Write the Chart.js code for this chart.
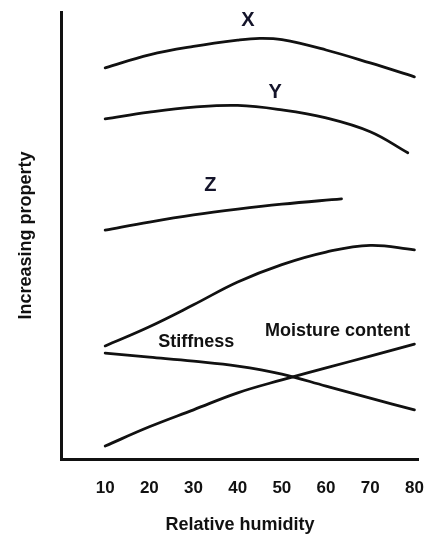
<!DOCTYPE html>
<html>
<head>
<meta charset="utf-8">
<script src="https://cdn.jsdelivr.net/npm/chart.js@4/dist/chart.umd.min.js"></script>
<style>
  html, body { margin: 0; padding: 0; background: #fff; }
  #wrap { width: 435px; height: 539px; }
</style>
</head>
<body>
<div id="wrap"><canvas id="c" width="435" height="539"></canvas></div>
<script>
// ---- data ----
const xTickLabels = [10, 20, 30, 40, 50, 60, 70, 80];

const xCurveX = [10, 20, 30, 40, 45, 50, 60, 70, 80];
const yCurveX = [87.5, 90.4, 92.3, 93.7, 94.1, 93.8, 91.5, 88.6, 85.5];

const xCurveY = [10, 20, 30, 40, 50, 60, 70, 78.5];
const yCurveY = [76.1, 77.6, 78.7, 79.1, 78.1, 76.3, 73.2, 68.5];

const xCurveZ = [10, 20, 30, 40, 50, 63.5];
const yCurveZ = [51.2, 53.0, 54.6, 55.9, 57.0, 58.2];

const xUpper = [10, 20, 30, 40, 50, 60, 70, 80];
const yUpper = [25.3, 29.6, 34.5, 39.6, 43.5, 46.3, 47.8, 46.8];

const xStiffness = [10, 20, 30, 40, 50, 60, 70, 80];
const yStiffness = [23.7, 22.8, 21.9, 20.8, 19.0, 16.3, 13.6, 11.0];

const xMoisture = [10, 20, 30, 40, 50, 60, 70, 80];
const yMoisture = [2.9, 7.2, 11.0, 14.8, 17.7, 20.4, 23.0, 25.7];

const labelTexts = ['X', 'Y', 'Z', 'Stiffness', 'Moisture content'];
const labelAtX   = [42.3, 48.5, 33.8, 30.6, 62.6];
const labelAtY   = [98.2, 82.0, 61.3, 26.2, 28.6];
const labelBig   = [true, true, true, false, false];

// ---- build ----
function pts(xs, ys) { return xs.map((x, i) => ({ x: x, y: ys[i] })); }
const FONT = '"Liberation Sans", Arial, Helvetica, sans-serif';
const INK = '#111111';

function ds(xs, ys) {
  return {
    data: pts(xs, ys),
    borderColor: INK,
    borderWidth: 2.8,
    pointRadius: 0,
    fill: false,
    tension: 0.4,
    borderCapStyle: 'round',
    borderJoinStyle: 'round'
  };
}

const curveLabels = {
  id: 'curveLabels',
  afterDatasetsDraw(chart) {
    const ctx = chart.ctx;
    const xs = chart.scales.x, ys = chart.scales.y;
    ctx.save();
    ctx.textAlign = 'center';
    ctx.textBaseline = 'middle';
    labelTexts.forEach((t, i) => {
      ctx.fillStyle = labelBig[i] ? '#14142a' : INK;
      ctx.font = 'bold ' + (labelBig[i] ? 20 : 18) + 'px ' + FONT;
      ctx.fillText(t, xs.getPixelForValue(labelAtX[i]), ys.getPixelForValue(labelAtY[i]));
    });
    ctx.restore();
  }
};

new Chart(document.getElementById('c'), {
  type: 'line',
  data: {
    datasets: [
      ds(xCurveX, yCurveX),
      ds(xCurveY, yCurveY),
      ds(xCurveZ, yCurveZ),
      ds(xUpper, yUpper),
      ds(xStiffness, yStiffness),
      ds(xMoisture, yMoisture)
    ]
  },
  options: {
    responsive: false,
    animation: false,
    layout: { padding: { top: 12, right: 12, left: 0, bottom: 0 } },
    plugins: { legend: { display: false }, tooltip: { enabled: false } },
    scales: {
      x: {
        type: 'linear',
        min: 0,
        max: 81,
        grid: { display: false },
        border: { display: true, width: 3, color: INK },
        afterBuildTicks: (s) => { s.ticks = xTickLabels.map(v => ({ value: v })); },
        afterFit: (s) => { s.height = 80; },
        ticks: {
          color: INK,
          padding: 11,
          font: { family: FONT, size: 17, weight: 'bold' },
          maxRotation: 0,
          autoSkip: false
        },
        title: {
          display: true,
          text: 'Relative humidity',
          color: INK,
          font: { family: FONT, size: 18, weight: 'bold' },
          padding: { top: 0, bottom: 3 }
        }
      },
      y: {
        type: 'linear',
        min: 0,
        max: 100,
        grid: { display: false },
        border: { display: true, width: 3, color: INK },
        ticks: { display: false },
        afterFit: (s) => { s.width = 61; },
        title: {
          display: true,
          text: 'Increasing property',
          color: INK,
          font: { family: FONT, size: 18, weight: 'bold' },
          padding: { top: 15, bottom: 0 }
        }
      }
    }
  },
  plugins: [curveLabels]
});
</script>
</body>
</html>
